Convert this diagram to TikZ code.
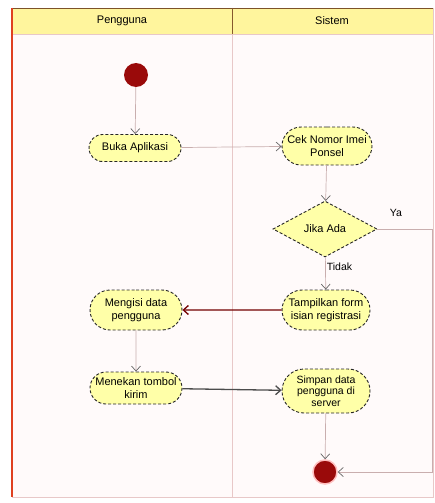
\documentclass[tikz,border=0pt]{standalone}
\usepackage{fontspec}
\setmainfont{Liberation Sans}
\usetikzlibrary{shapes.misc,shapes.geometric,arrows.meta}
\definecolor{hdr}{HTML}{FFF59D}
\definecolor{actfill}{HTML}{FFFFA8}
\definecolor{dotred}{HTML}{9A0A0A}
\definecolor{lite}{HTML}{C9AEAE}
\definecolor{frameline}{HTML}{E8C8C8}
\begin{document}
\begin{tikzpicture}[x=1pt,y=-1pt,
  act/.style={rounded rectangle, draw=black!85, densely dashed, fill=actfill, line width=0.9pt,
    font=\fontsize{11}{12.5}\selectfont, align=center, minimum height=27pt, inner xsep=6pt},
  dec/.style={diamond, draw=black!85, densely dashed, fill=actfill, line width=0.9pt,
    font=\fontsize{11}{12.5}\selectfont, aspect=1.85, minimum width=104pt, minimum height=56pt, inner sep=0pt},
  startdot/.style={circle, fill=dotred, minimum size=24pt, inner sep=0pt},
  enddot/.style={circle, fill=dotred, draw=red!25, line width=1.5pt, minimum size=24pt, inner sep=0pt},
  flow/.style={draw=lite, line width=0.7pt, -{Straight Barb[length=5pt,width=9pt,color=black!60]}},
  darkflow/.style={draw=#1, line width=1.3pt, -{Straight Barb[length=5pt,width=9pt]}},
  lbl/.style={font=\fontsize{10.5}{12}\selectfont, inner sep=1pt}
]
\useasboundingbox (0,0) rectangle (434,503);
% frame and lanes
\fill[white] (0,0) rectangle (434,503);
\fill[red!2] (12,8) rectangle (433,497);
\fill[hdr] (12,8) rectangle (433,34);
\draw[frameline, line width=0.8pt] (12,34) -- (433,34);
\draw[black!35!brown, line width=0.6pt] (12,8) -- (433,8);
\draw[brown!70!black, line width=0.8pt] (232,8) -- (232,34);
\draw[frameline, line width=0.6pt] (232,34) -- (232,497);
\draw[red!50!brown, line width=1.2pt] (12,8) -- (12,497);
\draw[frameline, line width=0.8pt] (12,497) -- (433,497) -- (433,8);
\node[font=\fontsize{11}{12.5}\selectfont] (h1) at (122,21) {Pengguna};
\node[font=\fontsize{11}{12.5}\selectfont] (h2) at (332,21) {Sistem};
% nodes
\node[startdot] (start) at (136,75) {};
\node[act, minimum width=104pt] (buka) at (135,148) {Buka Aplikasi};
\node[act, minimum width=102pt, minimum height=38pt] (cek) at (327,146) {Cek Nomor Imei\\Ponsel};
\node[dec] (jika) at (325,229) {Jika Ada};
\node[act, minimum width=100pt, minimum height=40pt] (tamp) at (326,310) {Tampilkan form\\isian registrasi};
\node[act, minimum width=104pt, minimum height=40pt] (isi) at (136,310) {Mengisi data\\pengguna};
\node[act, minimum width=104pt, minimum height=32pt] (tekan) at (136,388) {Menekan tombol\\kirim};
\node[act, minimum width=100pt, minimum height=44pt, font=\fontsize{10.5}{11.5}\selectfont] (simpan) at (326,391) {Simpan data\\pengguna di\\server};
\node[enddot] (end) at (325,472) {};
\coordinate (c1) at (432,229);
\coordinate (c2) at (432,472);
% connectors
\draw[flow] (start) -- (buka);
\draw[flow] (buka) -- (cek);
\draw[flow] (cek) -- (jika);
\draw[flow] (jika) -- node[lbl, right, pos=0.3] (tidak) {Tidak} (tamp);
\draw[darkflow=red!45!black] (tamp) -- (isi);
\draw[flow] (isi) -- (tekan);
\draw[darkflow=black!70] (tekan) -- (simpan);
\draw[flow] (simpan) -- (end);
\draw[flow] (jika.east) -- (c1) -- (c2) -- (end);
\node[lbl] (ya) at (396,213) {Ya};
\end{tikzpicture}
\end{document}
